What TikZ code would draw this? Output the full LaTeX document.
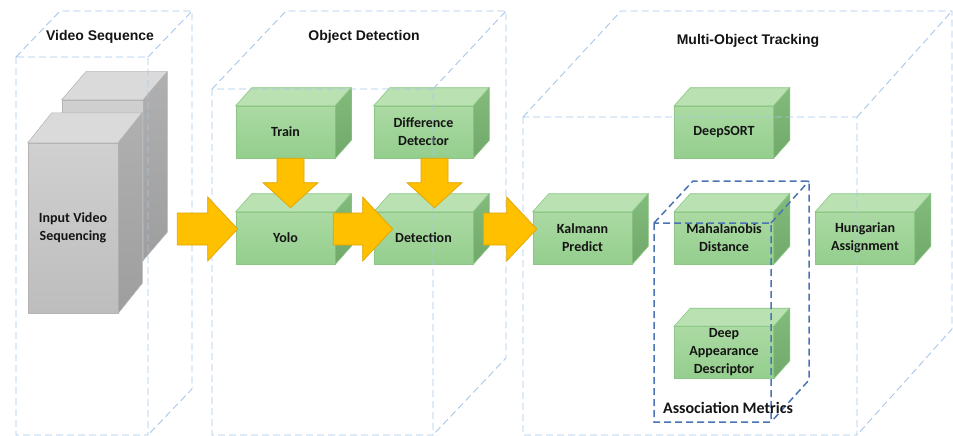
\documentclass[tikz,border=0pt]{standalone}
\usepackage{fontspec}
\setmainfont{Carlito}
\newfontfamily\headfont{Liberation Sans}
\usetikzlibrary{calc}

\definecolor{frameblue}{HTML}{A9C7EC}
\definecolor{metricblue}{HTML}{4A74B4}
\definecolor{arrowfill}{HTML}{FFC000}
\definecolor{arrowedge}{HTML}{E0A400}
\definecolor{gfrontA}{HTML}{ABDAA3}
\definecolor{gfrontB}{HTML}{94CE8D}
\definecolor{gtop}{HTML}{B9E1B2}
\definecolor{gsideA}{HTML}{82BB7C}
\definecolor{gsideB}{HTML}{70A96A}
\definecolor{gedge}{HTML}{8CC785}
\definecolor{grayfrontA}{HTML}{D0D0D0}
\definecolor{grayfrontB}{HTML}{BDBDBD}
\definecolor{graytop}{HTML}{DADADA}
\definecolor{graysideA}{HTML}{B0B0B0}
\definecolor{graysideB}{HTML}{9E9E9E}
\definecolor{grayedge}{HTML}{B4B4B4}

\tikzset{
  stagebox/.style={rectangle, inner sep=0pt, minimum width=99, minimum height=52,
    top color=gfrontA, bottom color=gfrontB, draw=gedge, line width=0.6pt,
    font=\fontsize{14}{18}\selectfont\bfseries, align=center, text=black!92},
  greytop/.style={fill=graytop, draw=grayedge, line width=0.5pt},
  greyside/.style={top color=graysideA, bottom color=graysideB, draw=grayedge, line width=0.5pt},
  greenface/.style={fill=gtop, draw=gedge, line width=0.6pt},
  greenside/.style={top color=gsideA, bottom color=gsideB, draw=gedge, line width=0.6pt},
  greybox/.style={rectangle, inner sep=0pt, top color=grayfrontA, bottom color=grayfrontB,
    draw=grayedge, line width=0.5pt, font=\fontsize{14}{18}\selectfont\bfseries,
    align=center, text=black!92},
  frame/.style={draw=frameblue, line width=0.9pt, dash pattern=on 7pt off 4pt},
  metricframe/.style={draw=metricblue, line width=1.5pt, dash pattern=on 7pt off 4pt},
  heading/.style={font=\headfont\fontsize{14}{17}\selectfont\bfseries, text=black!92, inner sep=0pt},
  metriclabel/.style={font=\fontsize{16}{19}\selectfont\bfseries, text=black!92, inner sep=0pt},
  flow/.style={fill=arrowfill, draw=arrowedge, line width=0.7pt, line join=miter}
}

% top and right faces of a box whose front face is node #1
\newcommand\boxsides[5]{%
  \path[#4] (#1.north west) -- ++(#2,-#3) -- ($(#1.north east)+(#2,-#3)$) -- (#1.north east) -- cycle;
  \path[#5] (#1.north east) -- ++(#2,-#3) -- ($(#1.south east)+(#2,-#3)$) -- (#1.south east) -- cycle;}

% horizontal block arrow from tail point #1 to tip point #2
\newcommand\flowright[2]{%
  \draw[flow] let \p1=(#1), \p2=(#2) in
    (\x1,\y1+16pt) -- (\x2-30pt,\y1+16pt) -- (\x2-30pt,\y1+32pt) -- (\x2,\y1)
    -- (\x2-30pt,\y1-32pt) -- (\x2-30pt,\y1-16pt) -- (\x1,\y1-16pt) -- cycle;}

% vertical block arrow from tail point #1 down to tip point #2
\newcommand\flowdown[2]{%
  \draw[flow] let \p1=(#1), \p2=(#2) in
    (\x1-13.5pt,\y1) -- (\x1-13.5pt,\y2+25pt) -- (\x1-27.5pt,\y2+25pt) -- (\x1,\y2)
    -- (\x1+27.5pt,\y2+25pt) -- (\x1+13.5pt,\y2+25pt) -- (\x1+13.5pt,\y1) -- cycle;}

\begin{document}
\begin{tikzpicture}[x=1pt, y=-1pt]
\useasboundingbox[fill=white] (0,0) rectangle (953,436);

% ---- input video stack ----
\node[greybox, minimum width=81, minimum height=160] (vidback) at (102.5,180) {};
\boxsides{vidback}{24}{28}{greytop}{greyside}
\node[greybox, minimum width=90, minimum height=170] (vid) at (73,228) {Input Video\\Sequencing};
\boxsides{vid}{24}{30}{greytop}{greyside}

% ---- processing blocks ----
\node[stagebox] (train)   at (285.5,132) {Train};
\node[stagebox] (yolo)    at (285.5,238) {Yolo};
\node[stagebox] (diff)    at (423.5,132) {Difference\\Detector};
\node[stagebox] (detect)  at (423.5,238) {Detection};
\node[stagebox] (kalman)  at (582.5,238) {Kalmann\\Predict};
\node[stagebox] (deepsort) at (724,132) {DeepSORT};
\node[stagebox] (maha)    at (724,238) {Mahalanobis\\Distance};
\node[stagebox] (appear)  at (724,352.5) {Deep\\Appearance\\Descriptor};
\node[stagebox] (hung)    at (865,238) {Hungarian\\Assignment};
\foreach \b in {train,yolo,diff,detect,kalman,deepsort,maha,appear,hung}
  {\boxsides{\b}{16}{18}{greenface}{greenside}}

% ---- stage frames ----
\draw[frame] (16,57) rectangle (148,435)
  (16,57) -- (60,11) -- (192,11) -- (192,389) -- (148,435)
  (148,57) -- (192,11);
\draw[frame] (212,89) rectangle (433,435)
  (212,89) -- (286,11) -- (506,11) -- (506,358) -- (433,435)
  (433,89) -- (506,11);
\draw[frame] (523,117) rectangle (857,435)
  (523,117) -- (621,11) -- (952,11) -- (952,329) -- (857,435)
  (857,117) -- (952,11);
\draw[metricframe] (654,223) rectangle (771,422)
  (654,223) -- (693,181) -- (809,181) -- (809,380) -- (771,422)
  (771,223) -- (809,181);

% ---- headings ----
\node[heading] (hvid) at (100,37) {Video Sequence};
\node[heading] (hdet) at (364,37) {Object Detection};
\node[heading] (hmot) at (748,41) {Multi-Object Tracking};
\node[metriclabel] (assoc) at (728,408) {Association Metrics};

% ---- flow arrows ----
\flowright{$(vid.east)+(59,1)$}{$(yolo.west)+(2,-9)$}
\flowright{$(yolo.east)+(-2,-9)$}{$(detect.west)+(19,-9)$}
\flowright{$(detect.east)+(10,-9)$}{$(kalman.west)+(4,-9)$}
\flowdown{$(train.south)+(5,0)$}{$(yolo.north)+(5,-4)$}
\flowdown{$(diff.south)+(11,0)$}{$(detect.north)+(11,-4)$}
\end{tikzpicture}
\end{document}
